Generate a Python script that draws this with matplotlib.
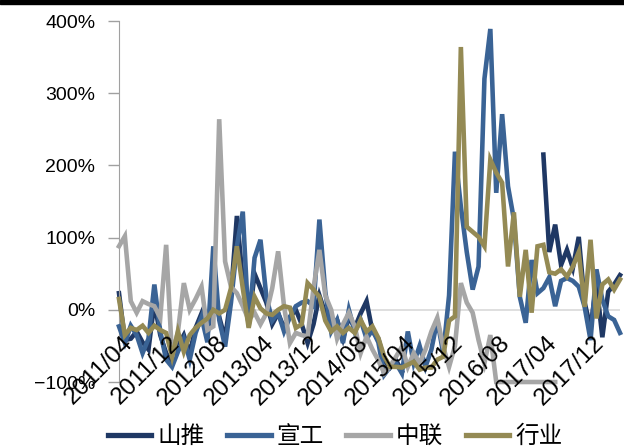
import numpy as np
import matplotlib
matplotlib.use('Agg')
import matplotlib.pyplot as plt
from matplotlib.patches import Rectangle

plt.rcParams['font.family'] = ['Liberation Sans', 'Noto Sans CJK SC', 'DejaVu Sans']

nan = np.nan

# 月份: 2011/04 - 2018/05
months = []
for k in range(86):
    yy = 2011 + (3 + k) // 12
    mm = (3 + k) % 12 + 1
    months.append('%d/%02d' % (yy, mm))

# 同比增速 (%)
shantui = [23, -42, -40, -30, -45, -55, 10, -35, -60, -75, -50, -35, -60, -25, -5, -35,
           30, -10, -40, 20, 130, 40, -20, 50, 30, 10, -20, -5, -25, -10, 0, -20,
           -46, -20, 20, -5, -20, -14, -40, -10, -25, -5, 12, -30, -40, -70, -80, -70,
           -85, nan, nan, nan, nan, nan, nan, nan, nan, nan, nan, nan, nan, nan, nan, nan,
           nan, nan, nan, nan, nan, nan, nan, nan, 215, 80, 118, 62, 83, 58, 101, 10,
           -25, 37, -38, 25, 35, 48]
xuangong = [-23, -46, -22, -35, -60, -40, 35, -30, -69, -79, -58, -40, -69, -32, -10, -45,
            88, -14, -51, 10, 88, 136, -23, 72, 97, 18, -15, -4, -30, -10, 5, 10,
            12, 5, 125, 25, -30, -14, -46, 0, -30, -14, -40, -28, -45, -90, -79, -74,
            -88, -30, -74, -50, -79, -55, -14, -60, 20, 219, 143, 80, 28, 60, 320, 389,
            162, 271, 171, 125, 18, -18, 69, 23, 30, 45, 5, 40, 44, 40, 32, 4,
            -42, 56, 14, -9, -14, -32]
zoomlion = [88, 102, 12, -4, 12, 8, 5, -11, 90, -65, -30, 37, 0, 15, 32, -28,
            -23, 264, 67, 32, 23, 5, -14, -4, -20, -5, 30, 81, 5, -46, -32, -35,
            -37, 30, 83, 20, 0, -40, -20, -4, -23, -60, -37, -55, -70, -88, -78, -65,
            -51, -79, -60, -74, -55, -30, -11, -51, -79, -50, 37, 10, -4, -42, -74, -35,
            -100, -100, -100, -100, -100, -100, -100, -100, -100, -100, -100, nan, nan, nan, nan, nan,
            nan, nan, nan, nan, nan, nan]
industry = [15, -35, -25, -28, -22, -32, -22, -28, -32, -65, -30, -58, -35, -25, -18, -12,
            0, -5, 0, 30, 88, 30, -25, 18, 2, -5, -7, 0, 5, 3, -25, -20,
            37, 28, 18, -15, -30, -23, -32, -25, -32, -14, -30, -23, -39, -65, -79, -79,
            -80, -76, -72, -83, -80, -80, -69, -65, -15, -9, 364, 115, 108, 101, 88, 208,
            190, 176, 60, 135, 18, 83, -4, 88, 90, 52, 50, 56, 46, 60, 80, 4,
            97, -12, 35, 42, 28, 42]

names = ['山推', '宣工', '中联', '行业']
colors = ['#1F3864', '#3A6395', '#A6A6A6', '#948A54']
series = [shantui, xuangong, zoomlion, industry]

fig = plt.figure(figsize=(6.24, 4.47), dpi=100)
ax = fig.add_axes([0.1907, 0.1454, 0.8029, 0.8076])

x = np.arange(len(months))
for k in range(4):
    ax.plot(x, series[k], color=colors[k], lw=3.3, label=names[k],
            zorder=2 + k, clip_on=False, solid_joinstyle='miter')

ax.set_xlim(0, len(months) - 1)
ax.set_ylim(-100, 400)
ax.axhline(0, color='#D9D9D9', lw=1.2, zorder=1)

yt = list(range(-100, 401, 100))
ax.set_yticks(yt)
ax.set_yticklabels([('%d%%' % v).replace('-', '\u2212') for v in yt], fontsize=14)
ax.tick_params(axis='y', length=8, width=1, color='#A0A0A0', pad=9)
ax.set_xticks([])
for s in ['top', 'right', 'bottom']:
    ax.spines[s].set_visible(False)
ax.spines['left'].set_color('#A0A0A0')

# 日期标签压在折线上面
for i in range(0, len(months), 8):
    ax.text(i + 0.4, -31, months[i], rotation=45, ha='right', va='top',
            rotation_mode='anchor', fontsize=17.5, clip_on=False, zorder=10)

leg = fig.legend(loc='center', bbox_to_anchor=(0.537, 0.024), ncol=4, frameon=False,
                 prop={'family': 'Noto Sans CJK SC', 'size': 17},
                 handlelength=1.85, handletextpad=0.25, columnspacing=0.95)
for h in leg.legend_handles:
    h.set_linewidth(3.8)

fig.patches.append(Rectangle((0, 1 - 4.0 / 447), 1, 4.0 / 447, transform=fig.transFigure,
                             color='black', zorder=10))

fig.savefig('out.png', dpi=100)
